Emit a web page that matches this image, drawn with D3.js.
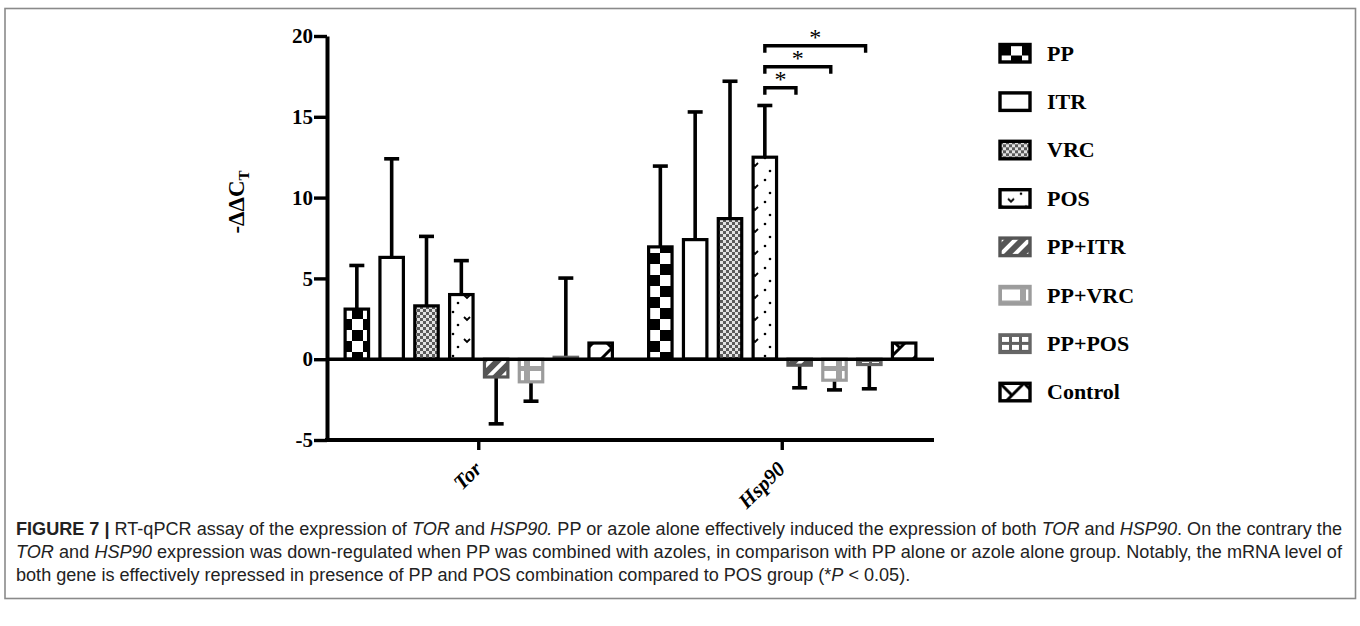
<!DOCTYPE html>
<html>
<head>
<meta charset="utf-8">
<script src="https://cdn.jsdelivr.net/npm/d3@7"></script>
<style>
  body { margin: 0; background: #fff; }
  svg { display: block; }
</style>
</head>
<body>
<div id="chart"></div>
<script>
// data
var genes = ['Tor', 'Hsp90'];
var treatments = ['PP', 'ITR', 'VRC', 'POS', 'PP+ITR', 'PP+VRC', 'PP+POS', 'Control'];
var torMean = [3.1, 6.3, 3.3, 4.0, -1.1, -1.4, 0.12, 1.0];
var torErr = [2.7, 6.1, 4.3, 2.1, 2.9, 1.2, 4.9, 0];
var hspMean = [6.95, 7.4, 8.7, 12.5, -0.37, -1.3, -0.33, 1.0];
var hspErr = [5.0, 7.9, 8.5, 3.2, 1.4, 0.6, 1.5, 0];
var yTicks = [-5, 0, 5, 10, 15, 20];
// significance brackets (Hsp90: POS vs combinations)
var sigTo = ['PP+ITR', 'PP+VRC', 'PP+POS'];
var sigLevel = [16.8, 18.1, 19.4];

var width = 1360, height = 626;
var svg = d3.select('#chart').append('svg')
  .attr('width', width)
  .attr('height', height);

// frame around the figure
svg.append('rect')
  .attr('x', 5).attr('y', 8.5)
  .attr('width', 1350.5).attr('height', 590)
  .attr('fill', 'none')
  .attr('stroke', '#8a8a8a')
  .attr('stroke-width', 1.6);

var left = 327, right = 934;
var y = d3.scaleLinear().domain([-5, 20]).range([440, 36]);
var x0 = d3.scaleBand().domain(genes).range([left, right]);
var x1 = d3.scaleBand().domain(treatments).range([0, x0.bandwidth()])
  .paddingInner(0.327).paddingOuter(0.52);

var defs = svg.append('defs');

// fill patterns, one per treatment
function pat(id, w, h) {
  return defs.append('pattern').attr('id', id)
    .attr('patternUnits', 'userSpaceOnUse')
    .attr('width', w).attr('height', h);
}
var p;
p = pat('p-pp', 22, 22);
p.append('rect').attr('width', 22).attr('height', 22).attr('fill', '#fff');
p.append('rect').attr('width', 11).attr('height', 11).attr('fill', '#000');
p.append('rect').attr('x', 11).attr('y', 11).attr('width', 11).attr('height', 11).attr('fill', '#000');

p = pat('p-itr', 10, 10);
p.append('rect').attr('width', 10).attr('height', 10).attr('fill', '#fff');

p = pat('p-vrc', 6, 6);
p.append('rect').attr('width', 6).attr('height', 6).attr('fill', '#e2e2e2');
p.append('rect').attr('width', 3).attr('height', 3).attr('fill', '#5a5a5a');
p.append('rect').attr('x', 3).attr('y', 3).attr('width', 3).attr('height', 3).attr('fill', '#5a5a5a');

p = pat('p-pos', 24, 22);
p.append('rect').attr('width', 24).attr('height', 22).attr('fill', '#fff');
p.append('path').attr('d', 'M8,9 l3,3 l3,-3').attr('fill', 'none').attr('stroke', '#000').attr('stroke-width', 1.8);
p.append('circle').attr('cx', 21).attr('cy', 4).attr('r', 1.3).attr('fill', '#000');
p.append('circle').attr('cx', 2).attr('cy', 17).attr('r', 1.3).attr('fill', '#000');

p = pat('p-ppitr', 10, 10).attr('patternTransform', 'rotate(45)');
p.append('rect').attr('width', 10).attr('height', 10).attr('fill', '#555');
p.append('rect').attr('width', 4).attr('height', 10).attr('fill', '#fff');

p = pat('p-ppvrc', 24, 16);
p.append('rect').attr('width', 24).attr('height', 16).attr('fill', '#a2a2a2');
p.append('rect').attr('x', 2).attr('y', 3).attr('width', 18).attr('height', 11).attr('fill', '#fff');

p = pat('p-pppos', 10, 8);
p.append('rect').attr('width', 10).attr('height', 8).attr('fill', '#606060');
p.append('rect').attr('x', 2).attr('y', 2).attr('width', 7).attr('height', 5).attr('fill', '#fff');

p = pat('p-ctrl', 24, 24);
p.append('rect').attr('width', 24).attr('height', 24).attr('fill', '#fff');
p.append('path').attr('d', 'M0,24 L24,0 M0,0 L12,12').attr('stroke', '#000').attr('stroke-width', 3);

var fills = ['url(#p-pp)', 'url(#p-itr)', 'url(#p-vrc)', 'url(#p-pos)',
  'url(#p-ppitr)', 'url(#p-ppvrc)', 'url(#p-pppos)', 'url(#p-ctrl)'];
var strokes = ['#000', '#000', '#000', '#000', '#555', '#9c9c9c', '#666', '#000'];
var fill = d3.scaleOrdinal().domain(treatments).range(fills);
var stroke = d3.scaleOrdinal().domain(treatments).range(strokes);

var rows = [];
genes.forEach(function (g, gi) {
  var m = gi === 0 ? torMean : hspMean;
  var e = gi === 0 ? torErr : hspErr;
  treatments.forEach(function (t, i) {
    rows.push({ gene: g, name: t, value: m[i], err: e[i] });
  });
});

function bx(d) { return x0(d.gene) + x1(d.name); }
function tip(d) { return y(d.value + (d.value < 0 ? -d.err : d.err)); }

// error bars (one-sided, drawn behind bars)
var eb = svg.append('g').selectAll('g')
  .data(rows.filter(function (d) { return d.err > 0; }))
  .enter().append('g');
eb.append('line')
  .attr('x1', function (d) { return bx(d) + x1.bandwidth() / 2; })
  .attr('x2', function (d) { return bx(d) + x1.bandwidth() / 2; })
  .attr('y1', function (d) { return y(d.value); })
  .attr('y2', tip)
  .style('stroke', '#000').style('stroke-width', 3.6);
eb.append('line')
  .attr('x1', function (d) { return bx(d) + x1.bandwidth() / 2 - 7.5; })
  .attr('x2', function (d) { return bx(d) + x1.bandwidth() / 2 + 7.5; })
  .attr('y1', tip)
  .attr('y2', tip)
  .style('stroke', '#000').style('stroke-width', 3.6);

// bars
svg.append('g').selectAll('rect')
  .data(rows)
  .enter().append('rect')
  .attr('x', bx)
  .attr('y', function (d) { return y(Math.max(0, d.value)); })
  .attr('width', x1.bandwidth())
  .attr('height', function (d) { return Math.abs(y(d.value) - y(0)); })
  .attr('fill', function (d) { return fill(d.name); })
  .style('stroke', function (d) { return stroke(d.name); })
  .style('stroke-width', 3.2);

// zero line
svg.append('line')
  .attr('x1', left).attr('x2', right)
  .attr('y1', y(0)).attr('y2', y(0))
  .style('stroke', '#000').style('stroke-width', 3.6);

// y axis
var yAxis = svg.append('g')
  .attr('transform', 'translate(' + left + ',0)')
  .call(d3.axisLeft(y).tickValues(yTicks).tickSize(13).tickSizeOuter(0).tickPadding(1)
    .tickFormat(function (v) { return String(v); }));
yAxis.select('.domain').style('stroke-width', 4);
yAxis.selectAll('.tick line').style('stroke-width', 3.4);
yAxis.selectAll('.tick text')
  .style('font-family', '"Liberation Serif", "Times New Roman", serif')
  .style('font-weight', 'bold')
  .style('font-size', '21px')
  .attr('fill', '#000');

// x axis at the bottom
var xAxis = svg.append('g')
  .attr('transform', 'translate(0,' + y(-5) + ')')
  .call(d3.axisBottom(x0).tickSize(10).tickSizeOuter(0).tickPadding(4));
xAxis.select('.domain').style('stroke-width', 4)
  .attr('d', 'M' + (left - 2) + ',0H' + right);
xAxis.selectAll('.tick line').style('stroke-width', 3.4);
xAxis.selectAll('.tick text')
  .style('font-family', '"Liberation Serif", "Times New Roman", serif')
  .style('font-weight', 'bold')
  .style('font-style', 'italic')
  .style('font-size', '21px')
  .attr('fill', '#000')
  .attr('text-anchor', 'end')
  .attr('x', 0).attr('y', 0)
  .attr('dy', '0.35em')
  .attr('transform', 'translate(-1,25) rotate(-45)');

// y axis title
var yt = svg.append('text')
  .attr('transform', 'translate(244,202) rotate(-90)')
  .attr('text-anchor', 'middle')
  .attr('fill', '#000')
  .style('font-family', '"Liberation Serif", "Times New Roman", serif')
  .style('font-weight', 'bold')
  .style('font-size', '23px');
yt.append('tspan').text('-\u0394\u0394C');
yt.append('tspan').attr('dy', 5).style('font-size', '15px').text('T');

// significance brackets
var posX = x0('Hsp90') + x1('POS') + x1.bandwidth() / 2;
sigTo.forEach(function (t, i) {
  var x2 = x0('Hsp90') + x1(t) + 8;
  var yy = y(sigLevel[i]);
  svg.append('path')
    .attr('d', 'M' + posX + ',' + (yy + 7) + 'V' + yy + 'H' + x2 + 'V' + (yy + 7))
    .attr('fill', 'none').style('stroke', '#000').style('stroke-width', 3.4);
  svg.append('text')
    .attr('x', (posX + x2) / 2).attr('y', yy - 1)
    .attr('text-anchor', 'middle')
    .attr('fill', '#000')
    .style('font-family', '"Liberation Serif", serif')
    .style('font-size', '24px')
    .text('*');
});

// legend
var lg = svg.append('g').selectAll('g')
  .data(treatments)
  .enter().append('g')
  .attr('transform', function (d, i) { return 'translate(1000,' + (44.5 + i * 48.4) + ')'; });
lg.append('rect')
  .attr('width', 30).attr('height', 17.5)
  .attr('fill', function (d) { return fill(d); })
  .style('stroke', function (d) { return stroke(d); })
  .style('stroke-width', 3.4);
lg.append('text')
  .attr('x', 47).attr('y', 16)
  .attr('fill', '#000')
  .style('font-family', '"Liberation Serif", "Times New Roman", serif')
  .style('font-weight', 'bold')
  .style('font-size', '22px')
  .text(function (d) { return d; });

// caption
var capLines = [
  [['b', 'FIGURE 7 | '], ['n', 'RT-qPCR assay of the expression of '], ['i', 'TOR'], ['n', ' and '], ['i', 'HSP90.'],
   ['n', ' PP or azole alone effectively induced the expression of both '], ['i', 'TOR'], ['n', ' and '], ['i', 'HSP90'],
   ['n', '. On the contrary the']],
  [['i', 'TOR'], ['n', ' and '], ['i', 'HSP90'],
   ['n', ' expression was down-regulated when PP was combined with azoles, in comparison with PP alone or azole alone group. Notably, the mRNA level of']],
  [['n', 'both gene is effectively repressed in presence of PP and POS combination compared to POS group (*'], ['i', 'P'], ['n', ' < 0.05).']]
];
var capFont = '"Liberation Sans", Arial, sans-serif';
var capTexts = capLines.map(function (parts, li) {
  var t = svg.append('text')
    .attr('x', 16).attr('y', 535 + li * 23)
    .style('font-family', capFont)
    .style('font-size', '10px')
    .attr('fill', '#222');
  parts.forEach(function (pp) {
    var s = t.append('tspan').text(pp[1]);
    if (pp[0] === 'b') s.style('font-weight', 'bold');
    if (pp[0] === 'i') s.style('font-style', 'italic');
  });
  return t;
});
var w0 = capTexts[0].node().getComputedTextLength();
var fs = 10 * 1326 / w0;
capTexts.forEach(function (t, i) {
  t.style('font-size', fs + 'px');
  if (i < 2) t.attr('textLength', 1326).attr('lengthAdjust', 'spacing');
});
</script>
</body>
</html>
